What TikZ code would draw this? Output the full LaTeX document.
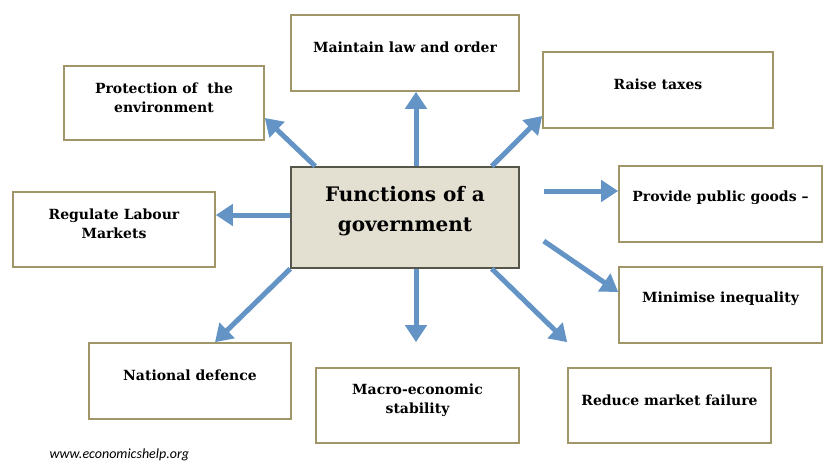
\documentclass[tikz,border=0pt]{standalone}
\usepackage{fontspec}
\setmainfont{DejaVu Serif}
\newfontfamily\urlfont{Carlito}
\usetikzlibrary{arrows.meta}
\definecolor{arrowblue}{HTML}{6494C6}
\definecolor{boxline}{HTML}{A09668}
\definecolor{centerfill}{HTML}{E3E0D2}
\definecolor{centerline}{HTML}{55554A}
\tikzset{
  fnbox/.style={draw=boxline, line width=1.6pt, fill=white, rectangle, inner sep=0pt},
  boxtext/.style={font=\bfseries\fontsize{14}{19}\selectfont, align=center, anchor=center, yshift=-33pt},
  centerbox/.style={draw=centerline, line width=1.6pt, fill=centerfill, rectangle, inner sep=0pt,
    minimum width=228pt, minimum height=101pt},
  centertext/.style={font=\bfseries\fontsize{20}{30}\selectfont, align=center, anchor=center, yshift=6pt},
  arr/.style={draw=arrowblue, line width=5pt, -{Triangle[width=21pt,length=17pt]}}
}
\begin{document}
\begin{tikzpicture}[x=1pt,y=1pt]
\useasboundingbox (0,0) rectangle (831,-466);
\node[centerbox, label={[centertext]center:Functions of a\\government}] (gov) at (405,-217.5) {};
\node[fnbox, minimum width=228pt, minimum height=76pt, label={[boxtext]north:Maintain law and order}] (law) at (405,-53) {};
\node[fnbox, minimum width=200pt, minimum height=74pt, label={[boxtext]north:Protection of\ \ the\\environment}] (env) at (164,-103) {};
\node[fnbox, minimum width=230pt, minimum height=76pt, label={[boxtext]north:Raise taxes}] (tax) at (658,-90) {};
\node[fnbox, minimum width=203pt, minimum height=76pt, label={[boxtext]north:Provide public goods –}] (pub) at (720.5,-204) {};
\node[fnbox, minimum width=202pt, minimum height=75pt, label={[boxtext]north:Regulate Labour\\Markets}] (lab) at (114,-229.5) {};
\node[fnbox, minimum width=203pt, minimum height=76pt, label={[boxtext]north:Minimise inequality}] (ineq) at (720.5,-305) {};
\node[fnbox, minimum width=202pt, minimum height=76pt, label={[boxtext]north:National defence}] (def) at (190,-381) {};
\node[fnbox, minimum width=203pt, minimum height=75pt, label={[boxtext]north:Macro-economic\\stability}] (mac) at (417.5,-405.5) {};
\node[fnbox, minimum width=203pt, minimum height=75pt, label={[boxtext]north:Reduce market failure}] (mkt) at (669.5,-405.5) {};
\node[font=\urlfont\itshape\fontsize{14}{16}\selectfont, anchor=west] (url) at (46,-455) {www.economicshelp.org};
\draw[arr] ([xshift=11pt]gov.north) -- ([xshift=11pt]law.south);
\draw[arr] ([xshift=25pt]gov.north west) -- ([yshift=-15pt]env.east);
\draw[arr] ([xshift=-28pt]gov.north east) -- ([yshift=-26pt]tax.west);
\draw[arr] ([xshift=24pt,yshift=26.5pt]gov.east) -- ([yshift=13pt]pub.west);
\draw[arr] ([yshift=2.5pt]gov.west) -- ([yshift=14.5pt]lab.east);
\draw[arr] ([xshift=24pt,yshift=-23.5pt]gov.east) -- ([yshift=13pt]ineq.west);
\draw[arr] (gov.south west) -- ([xshift=25pt]def.north);
\draw[arr] ([xshift=11pt]gov.south) -- ([xshift=-1.5pt,yshift=25pt]mac.north);
\draw[arr] ([xshift=-28pt]gov.south east) -- ([yshift=25pt]mkt.north west);
\end{tikzpicture}
\end{document}
